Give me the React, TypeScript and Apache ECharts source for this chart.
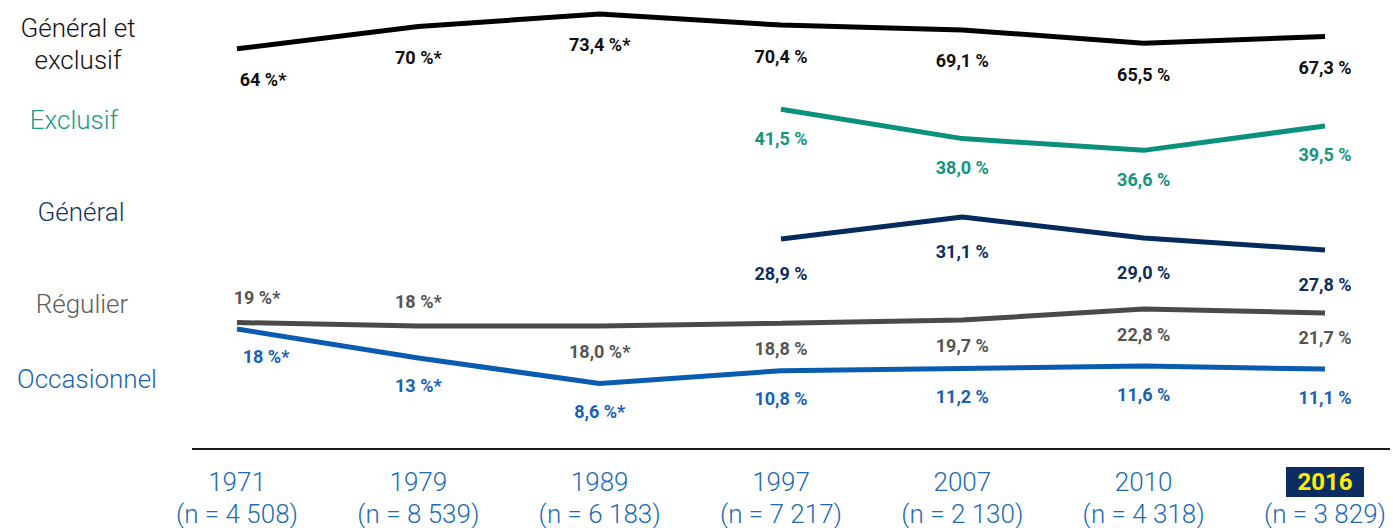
import React, { useEffect, useRef } from "react";
import * as echarts from "echarts";

const years = ["1971", "1979", "1989", "1997", "2007", "2010", "2016"];
const sampleSizes = ["4 508", "8 539", "6 183", "7 217", "2 130", "4 318", "3 829"];

const seriesNames = ["Général et exclusif", "Exclusif", "Général", "Régulier", "Occasionnel"];

const genExclValues = [64, 70, 73.4, 70.4, 69.1, 65.5, 67.3];
const genExclTexts = ["64 %*", "70 %*", "73,4 %*", "70,4 %", "69,1 %", "65,5 %", "67,3 %"];

const exclValues = [null, null, null, 41.5, 38.0, 36.6, 39.5];
const exclTexts = ["", "", "", "41,5 %", "38,0 %", "36,6 %", "39,5 %"];

const genValues = [null, null, null, 28.9, 31.1, 29.0, 27.8];
const genTexts = ["", "", "", "28,9 %", "31,1 %", "29,0 %", "27,8 %"];

const regValues = [19, 18, 18.0, 18.8, 19.7, 22.8, 21.7];
const regTexts = ["19 %*", "18 %*", "18,0 %*", "18,8 %", "19,7 %", "22,8 %", "21,7 %"];

const occValues = [18, 13, 8.6, 10.8, 11.2, 11.6, 11.1];
const occTexts = ["18 %*", "13 %*", "8,6 %*", "10,8 %", "11,2 %", "11,6 %", "11,1 %"];

const LABEL_FONT = "'Liberation Sans Narrow', 'Roboto', sans-serif";

function makeSeries(
  name: string,
  values: (number | null)[],
  texts: string[],
  axisIndex: number,
  lineColor: string,
  labelColor: string,
  distance: number,
  topIdx: number[],
  firstOffset: number
) {
  return {
    name,
    type: "line",
    yAxisIndex: axisIndex,
    data: values.map((v, i) => ({
      value: v,
      label: {
        position: topIdx.includes(i) ? "top" : "bottom",
        offset: i === 0 ? [firstOffset, 0] : [0, 0],
      },
    })),
    symbol: "circle",
    symbolSize: 0,
    showSymbol: true,
    lineStyle: { color: lineColor, width: 5, cap: "butt" },
    itemStyle: { color: lineColor },
    label: {
      show: true,
      distance,
      color: labelColor,
      fontFamily: LABEL_FONT,
      fontWeight: "bold",
      fontSize: 18,
      formatter: (p: any) => texts[p.dataIndex],
    },
    emphasis: { disabled: true },
    silent: true,
  };
}

function hiddenY(min: number, max: number) {
  return {
    type: "value",
    min,
    max,
    show: false,
    splitLine: { show: false },
  };
}

const leftNames = [
  { text: "Général et", x: 78, y: 28, color: "#111111" },
  { text: "exclusif", x: 78, y: 60, color: "#111111" },
  { text: "Exclusif", x: 74, y: 120, color: "#1a9a88" },
  { text: "Général", x: 81, y: 212, color: "#143466" },
  { text: "Régulier", x: 82, y: 304, color: "#5e5e5e" },
  { text: "Occasionnel", x: 87, y: 379, color: "#1a66b3" },
];

export default function App() {
  const ref = useRef<HTMLDivElement>(null);

  useEffect(() => {
    document.body.style.margin = "0";
    if (!ref.current) return;
    const chart = echarts.init(ref.current, null, { renderer: "svg" });
    const option: any = {
      animation: false,
      backgroundColor: "#ffffff",
      grid: { left: 237, right: 68, top: 0, bottom: 79, containLabel: false },
      xAxis: {
        type: "category",
        data: years,
        boundaryGap: false,
        axisLine: { show: false },
        axisTick: { show: false },
        splitLine: { show: false },
        axisLabel: {
          margin: 17,
          interval: 0,
          formatter: (val: string, idx: number) => {
            const yr = idx === years.length - 1 ? `{hl|${val}}` : `{y|${val}}`;
            return `${yr}\n{n|(n = ${sampleSizes[idx]})}`;
          },
          rich: {
            y: {
              fontFamily: "Roboto, sans-serif",
              fontWeight: 300,
              fontSize: 26,
              lineHeight: 32,
              color: "#1d6cb8",
            },
            hl: {
              fontFamily: "Roboto, sans-serif",
              fontWeight: "bold",
              fontSize: 24,
              lineHeight: 32,
              height: 30,
              width: 78,
              align: "center",
              color: "#ffee00",
              backgroundColor: "#0b2d62",
            },
            n: {
              fontFamily: "Roboto, sans-serif",
              fontWeight: 300,
              fontSize: 26,
              lineHeight: 32,
              color: "#1d6cb8",
            },
          },
        },
      },
      yAxis: [
        hiddenY(-44.17, 77.18),
        hiddenY(1.09, 54.48),
        hiddenY(7.9, 52.8),
        hiddenY(-16.63, 109.85),
        hiddenY(-2.69, 74.72),
      ],
      series: [
        makeSeries(seriesNames[0], genExclValues, genExclTexts, 0, "#000000", "#111111", 22, [], 26),
        makeSeries(seriesNames[1], exclValues, exclTexts, 1, "#0a917c", "#13957f", 20, [], 0),
        makeSeries(seriesNames[2], genValues, genTexts, 2, "#052b5c", "#0d2e5e", 25, [], 0),
        makeSeries(seriesNames[3], regValues, regTexts, 3, "#4a4a4a", "#555555", 16, [0, 1], 20),
        makeSeries(seriesNames[4], occValues, occTexts, 4, "#0a5cb0", "#1862b5", 19, [], 29),
      ],
      graphic: [
        {
          type: "line",
          shape: { x1: 192, y1: 449, x2: 1390, y2: 449 },
          style: { stroke: "#1a1a1a", lineWidth: 2 },
          silent: true,
        },
        ...leftNames.map((n) => ({
          type: "text",
          x: n.x,
          y: n.y,
          silent: true,
          style: {
            text: n.text,
            fill: n.color,
            fontFamily: "Roboto, sans-serif",
            fontWeight: 300,
            fontSize: 26,
            align: "center",
            verticalAlign: "middle",
          },
        })),
      ],
    };
    chart.setOption(option);
    return () => chart.dispose();
  }, []);

  return <div ref={ref} style={{ width: 1393, height: 528 }} />;
}
